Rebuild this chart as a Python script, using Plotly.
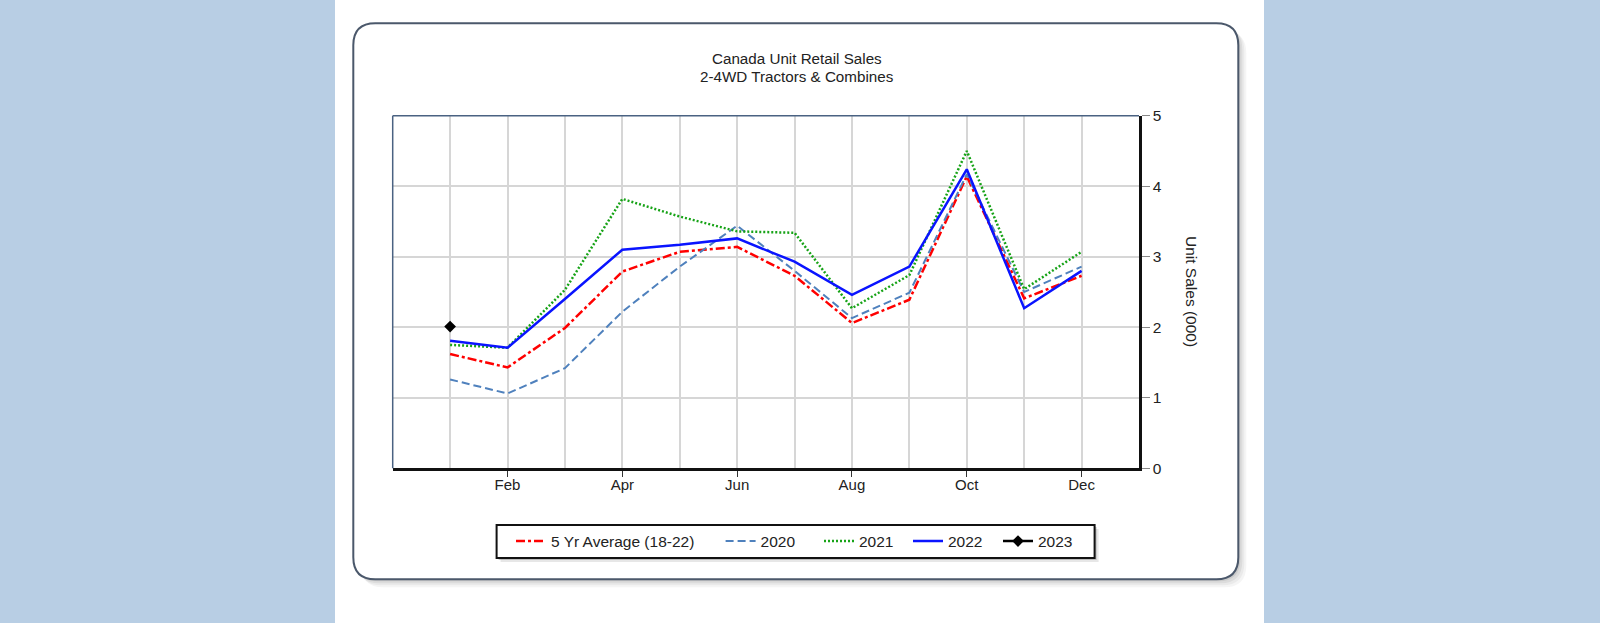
import plotly.graph_objects as go

# ---------------- data ----------------
months = [1, 2, 3, 4, 5, 6, 7, 8, 9, 10, 11, 12]
tick_months = [2, 4, 6, 8, 10, 12]
tick_labels = ["Feb", "Apr", "Jun", "Aug", "Oct", "Dec"]
grid_months = [1, 3, 5, 7, 9, 11]

avg_5yr = [1.62, 1.43, 1.99, 2.79, 3.07, 3.14, 2.73, 2.06, 2.39, 4.14, 2.41, 2.73]
y2020 = [1.26, 1.06, 1.42, 2.22, 2.86, 3.44, 2.80, 2.13, 2.49, 4.17, 2.50, 2.86]
y2021 = [1.75, 1.71, 2.53, 3.82, 3.57, 3.36, 3.34, 2.27, 2.74, 4.50, 2.54, 3.07]
y2022 = [1.81, 1.71, 2.40, 3.10, 3.17, 3.26, 2.93, 2.46, 2.86, 4.24, 2.27, 2.80]
months_2023 = [1]
y2023 = [2.01]

series_names = ["5 Yr Average (18-22)", "2020", "2021", "2022", "2023"]
title_lines = ["Canada Unit Retail Sales", "2-4WD Tractors & Combines"]
y_title = "Unit Sales (000)"

W, H = 1600, 623
FONT = "Liberation Sans, Arial, sans-serif"


def px(x):
    return x / W


def py(y):
    return 1 - y / H


def rounded_path(x0, y0, x1, y1, r):
    X0, X1 = px(x0), px(x1)
    Y0, Y1 = py(y0), py(y1)
    rx, ry = r / W, r / H
    return (f"M {X0+rx},{Y0} L {X1-rx},{Y0} Q {X1},{Y0} {X1},{Y0-ry} "
            f"L {X1},{Y1+ry} Q {X1},{Y1} {X1-rx},{Y1} "
            f"L {X0+rx},{Y1} Q {X0},{Y1} {X0},{Y1+ry} "
            f"L {X0},{Y0-ry} Q {X0},{Y0} {X0+rx},{Y0} Z")


fig = go.Figure()

fig.add_trace(go.Scatter(x=months, y=avg_5yr, name=series_names[0], mode="lines", legend="legend",
                         line=dict(color="#ff0000", width=2.5, dash="9px,3px,3px,3px")))
fig.add_trace(go.Scatter(x=months, y=y2020, name=series_names[1], mode="lines", legend="legend2",
                         line=dict(color="#4f81bd", width=2, dash="8px,4px")))
fig.add_trace(go.Scatter(x=months, y=y2021, name=series_names[2], mode="lines", legend="legend3",
                         line=dict(color="#17a317", width=2.5, dash="2px,2px")))
fig.add_trace(go.Scatter(x=months, y=y2022, name=series_names[3], mode="lines", legend="legend4",
                         line=dict(color="#0a14ff", width=2.5)))
fig.add_trace(go.Scatter(x=months_2023, y=y2023, name=series_names[4], mode="lines+markers",
                         legend="legend5",
                         line=dict(color="#000000", width=2.5),
                         marker=dict(symbol="diamond", size=9, color="#000000")))

# plot area in pixels
PL, PR, PT, PB = 392.7, 1139.0, 115.7, 468.3

shapes = []
shapes.append(dict(type="rect", xref="paper", yref="paper", x0=px(335), x1=px(1264), y0=0, y1=1,
                   fillcolor="white", line=dict(width=0), layer="below"))
cx0, cy0, cx1, cy1 = 353.3, 23.3, 1238.3, 579.3
for off, a in [(8, 0.05), (6, 0.06), (4, 0.08), (2, 0.10)]:
    shapes.append(dict(type="path", xref="paper", yref="paper",
                       path=rounded_path(cx0 + off, cy0 + off, cx1 + off, cy1 + off, 22),
                       fillcolor=f"rgba(60,60,60,{a})", line=dict(width=0), layer="below"))
shapes.append(dict(type="path", xref="paper", yref="paper",
                   path=rounded_path(cx0, cy0, cx1, cy1, 22),
                   fillcolor="white", line=dict(color="#4b586b", width=2), layer="below"))
lx0, ly0, lx1, ly1 = 496.6, 525, 1094.6, 558
for off, a in [(4, 0.12), (2, 0.25)]:
    shapes.append(dict(type="rect", xref="paper", yref="paper",
                       x0=px(lx0 + off), x1=px(lx1 + off), y0=py(ly1 + off), y1=py(ly0 + off),
                       fillcolor=f"rgba(60,60,60,{a})", line=dict(width=0), layer="below"))
shapes.append(dict(type="rect", xref="paper", yref="paper",
                   x0=px(lx0), x1=px(lx1), y0=py(ly1), y1=py(ly0),
                   fillcolor="white", line=dict(color="#111111", width=2), layer="below"))
shapes.append(dict(type="line", xref="paper", yref="paper", x0=px(PL), x1=px(PL), y0=py(PB), y1=py(PT),
                   line=dict(color="#4a6282", width=1.5)))
shapes.append(dict(type="line", xref="paper", yref="paper", x0=px(PL), x1=px(PR), y0=py(PT), y1=py(PT),
                   line=dict(color="#4a6282", width=1.5)))

legend_font = dict(family=FONT, size=15.5, color="#222222")
legend_x = [511, 720.6, 819, 908, 998]


def leg(xpx):
    return dict(orientation="h", x=px(xpx), xanchor="left", y=py(541.5), yanchor="middle",
                bgcolor="rgba(0,0,0,0)", borderwidth=0, font=legend_font, itemwidth=30)


annotations = [
    dict(text=title_lines[0], xref="paper", yref="paper", x=px(797), y=py(58.3),
         xanchor="center", yanchor="middle", showarrow=False,
         font=dict(family=FONT, size=15.2, color="#222222")),
    dict(text=title_lines[1], xref="paper", yref="paper", x=px(797), y=py(76.7),
         xanchor="center", yanchor="middle", showarrow=False,
         font=dict(family=FONT, size=15.2, color="#222222")),
    dict(text=y_title, xref="paper", yref="paper",
         x=px(1191.7), y=py(291.7), xanchor="center", yanchor="middle",
         textangle=90, showarrow=False,
         font=dict(family=FONT, size=15.5, color="#222222")),
]

fig.update_layout(
    width=W, height=H,
    margin=dict(l=0, r=0, t=0, b=0, autoexpand=False),
    paper_bgcolor="#b8cee4",
    plot_bgcolor="white",
    font=dict(family=FONT, size=15, color="#222222"),
    showlegend=True,
    shapes=shapes,
    annotations=annotations,
    xaxis=dict(domain=[px(PL), px(PR)], range=[0, 13],
               tickvals=tick_months, ticktext=tick_labels,
               ticks="outside", ticklen=6, tickcolor="#333333", tickwidth=1,
               ticklabelstandoff=-5,
               showgrid=True, gridcolor="#d6d6d6", gridwidth=1.5,
               minor=dict(tickvals=grid_months, showgrid=True, gridcolor="#d6d6d6", gridwidth=1.5, ticks=""),
               showline=True, linecolor="#111111", linewidth=3,
               zeroline=False, fixedrange=True,
               tickfont=dict(size=15, color="#222222")),
    yaxis=dict(domain=[py(PB), py(PT)], range=[0, 5], side="right",
               tickvals=[0, 1, 2, 3, 4, 5],
               ticks="outside", ticklen=8, tickcolor="#888888", tickwidth=1,
               showgrid=True, gridcolor="#d6d6d6", gridwidth=1.5,
               showline=True, linecolor="#111111", linewidth=2.5,
               zeroline=False, fixedrange=True,
               tickfont=dict(size=15.5, color="#222222")),
    legend=leg(legend_x[0]),
    legend2=leg(legend_x[1]),
    legend3=leg(legend_x[2]),
    legend4=leg(legend_x[3]),
    legend5=leg(legend_x[4]),
)

fig.write_html("out.html", config={"displayModeBar": False},
               post_script="document.body.style.margin='0';document.body.style.overflow='hidden';")
